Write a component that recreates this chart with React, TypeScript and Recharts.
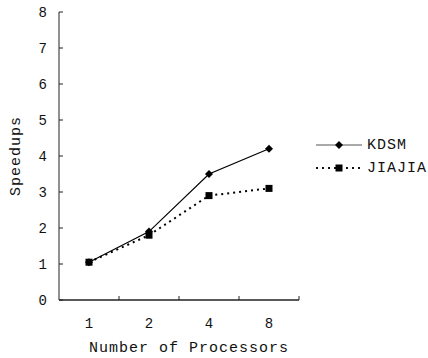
import { LineChart, Line, XAxis, YAxis, Legend, Label } from "recharts";

// values
const processors = ["1", "2", "4", "8"];
const kdsm = [1.05, 1.9, 3.5, 4.2];
const jiajia = [1.05, 1.8, 2.9, 3.1];
const yTicks = [0, 1, 2, 3, 4, 5, 6, 7, 8];

const FONT = '"Liberation Mono", "DejaVu Sans Mono", monospace';

const data = processors.map((p, i) => ({
  pos: i + 0.5,
  label: p,
  kdsm: kdsm[i],
  jiajia: jiajia[i],
}));

// label ticks sit in the middle of each band, tick marks between bands
const xTicks = processors
  .flatMap((_, i) => [i + 0.5, i + 1])
  .sort((a, b) => a - b);

function XTick(props: any) {
  const { x, y, payload } = props;
  const v = payload.value as number;
  if (Number.isInteger(v)) {
    return <line x1={x} x2={x} y1={y} y2={y - 4} stroke="#222" strokeWidth={1} />;
  }
  return (
    <text
      x={x}
      y={y + 28}
      textAnchor="middle"
      fontFamily={FONT}
      fontSize={14}
      fill="#111"
    >
      {processors[Math.floor(v)]}
    </text>
  );
}

function Diamond(props: any) {
  const { cx, cy, index } = props;
  if (cx == null || cy == null) return <g key={`d-${index}`} />;
  const r = 4;
  return (
    <path
      key={`d-${index}`}
      d={`M${cx},${cy - r} L${cx + r},${cy} L${cx},${cy + r} L${cx - r},${cy} Z`}
      fill="#000"
    />
  );
}

function Square(props: any) {
  const { cx, cy, index } = props;
  if (cx == null || cy == null) return <g key={`s-${index}`} />;
  const s = 7;
  return <rect key={`s-${index}`} x={cx - s / 2} y={cy - s / 2} width={s} height={s} fill="#000" />;
}

const legendItems = [
  { name: "KDSM", dash: undefined as string | undefined, width: 1, marker: "diamond", stroke: "#555" },
  { name: "JIAJIA", dash: "2 4", width: 2, marker: "square", stroke: "#111" },
];

function renderLegend() {
  return (
    <div style={{ display: "flex", flexDirection: "column", gap: 7 }}>
      {legendItems.map((item) => (
        <div key={item.name} style={{ display: "flex", alignItems: "center", height: 16 }}>
          <svg width={48} height={16}>
            <line
              x1={0}
              x2={46}
              y1={8}
              y2={8}
              stroke={item.stroke}
              strokeWidth={item.width}
              strokeDasharray={item.dash}
            />
            {item.marker === "diamond" ? (
              <path d="M23,4 L27,8 L23,12 L19,8 Z" fill="#000" />
            ) : (
              <rect x={19.5} y={4.5} width={7} height={7} fill="#000" />
            )}
          </svg>
          <span
            style={{
              fontFamily: FONT,
              fontSize: 15,
              letterSpacing: 1,
              color: "#111",
              marginLeft: 3,
            }}
          >
            {item.name}
          </span>
        </div>
      ))}
    </div>
  );
}

export default function App() {
  return (
    <div style={{ position: "absolute", left: 0, top: 0, width: 428, height: 358, background: "#fff" }}>
      <LineChart
        width={428}
        height={358}
        data={data}
        margin={{ top: 12, right: 129, left: 0, bottom: 0 }}
      >
        <XAxis
          dataKey="pos"
          type="number"
          domain={[0, 4]}
          ticks={xTicks}
          interval={0}
          tickLine={false}
          tickSize={0}
          tickMargin={0}
          tick={<XTick />}
          height={58}
          axisLine={{ stroke: "#222", strokeWidth: 1.5 }}
        >
          <Label
            value="Number of Processors"
            position="center"
            dx={10}
            dy={18}
            style={{ fontFamily: FONT, fontSize: 15, letterSpacing: 1, fill: "#111" }}
          />
        </XAxis>
        <YAxis
          type="number"
          domain={[0, 8]}
          ticks={yTicks}
          interval={0}
          width={59}
          tickSize={-4}
          tickMargin={16}
          tick={{ fontFamily: FONT, fontSize: 14, fill: "#111" }}
          tickLine={{ stroke: "#222" }}
          axisLine={{ stroke: "#222" }}
        >
          <Label
            value="Speedups"
            angle={-90}
            position="center"
            dx={-15}
            style={{ fontFamily: FONT, fontSize: 15, letterSpacing: 1, fill: "#111" }}
          />
        </YAxis>
        <Legend
          content={renderLegend}
          layout="horizontal"
          align="center"
          verticalAlign="middle"
          wrapperStyle={{ left: 316, top: 137, width: 112, height: 50 }}
        />
        <Line
          type="linear"
          dataKey="kdsm"
          name="KDSM"
          stroke="#000"
          strokeWidth={1.2}
          dot={Diamond}
          activeDot={false}
          isAnimationActive={false}
        />
        <Line
          type="linear"
          dataKey="jiajia"
          name="JIAJIA"
          stroke="#000"
          strokeWidth={2}
          strokeDasharray="2 4"
          dot={Square}
          activeDot={false}
          isAnimationActive={false}
        />
      </LineChart>
    </div>
  );
}
